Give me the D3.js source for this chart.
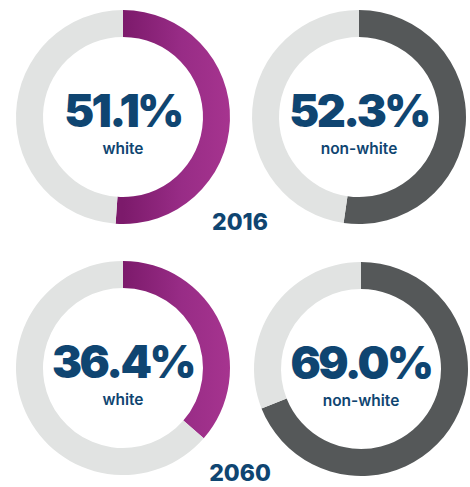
<!DOCTYPE html>
<html>
<head>
<meta charset="utf-8">
<script src="https://cdn.jsdelivr.net/npm/d3@7"></script>
<style>
  body { margin: 0; background: #fff; }
  text { font-family: "Inter", "Roboto", sans-serif; fill: #0f4571; }
</style>
</head>
<body>
<div id="chart"></div>
<script>
var w = 470,
    h = 487,
    outerR = 107,
    innerR = 80;

// data
var years = ['2016', '2060'];
var groups = ['white', 'non-white'];
var white_pct = [51.1, 36.4];
var nonwhite_pct = [52.3, 69.0];

var centers = [[123, 117], [359, 117], [123, 368], [361, 369]];

var svg = d3.select("#chart")
    .append("svg")
    .attr("width", w)
    .attr("height", h);

var defs = svg.append("defs");

var pie = d3.pie().sort(null).value(function (d) { return d; });
var arc = d3.arc().innerRadius(innerR).outerRadius(outerR);

var cells = [];
years.forEach(function (y, i) {
    cells.push({year: y, group: groups[0], value: white_pct[i]});
    cells.push({year: y, group: groups[1], value: nonwhite_pct[i]});
});

cells.forEach(function (c, i) {
    var cx = centers[i][0], cy = centers[i][1];
    var g = svg.append("g").attr("transform", "translate(" + cx + "," + cy + ")");

    var fill;
    if (c.group == 'white') {
        // purple arc darkens toward the centre line
        var gid = "grad" + i;
        var grad = defs.append("linearGradient")
            .attr("id", gid)
            .attr("gradientUnits", "userSpaceOnUse")
            .attr("x1", 0).attr("y1", 0)
            .attr("x2", outerR).attr("y2", 0);
        grad.append("stop").attr("offset", "0%").attr("stop-color", "#7c1a6b");
        grad.append("stop").attr("offset", "55%").attr("stop-color", "#982c86");
        grad.append("stop").attr("offset", "100%").attr("stop-color", "#a6348f");
        fill = "url(#" + gid + ")";
    } else {
        fill = "#555859";
    }

    var slices = pie([c.value, 100 - c.value]);
    g.selectAll("path")
        .data(slices)
        .enter()
        .append("path")
        .attr("d", arc)
        .style("fill", function (d, j) { return j == 0 ? fill : "#e1e3e2"; });

    g.append("text")
        .attr("text-anchor", "middle")
        .attr("y", 10)
        .style("font-size", "45px")
        .style("font-weight", 900)
        .style("letter-spacing", "-2.5px")
        .text(d3.format(".1f")(c.value) + "%");

    g.append("text")
        .attr("text-anchor", "middle")
        .attr("y", 37)
        .style("font-size", "15.5px")
        .style("font-weight", 600)
        .text(c.group);
});

svg.selectAll(".year")
    .data(years)
    .enter()
    .append("text")
    .attr("class", "year")
    .attr("x", 240)
    .attr("y", function (d, i) { return i == 0 ? 230 : 481; })
    .attr("text-anchor", "middle")
    .style("font-size", "23px")
    .style("font-weight", 800)
    .text(function (d) { return d; });
</script>
</body>
</html>
